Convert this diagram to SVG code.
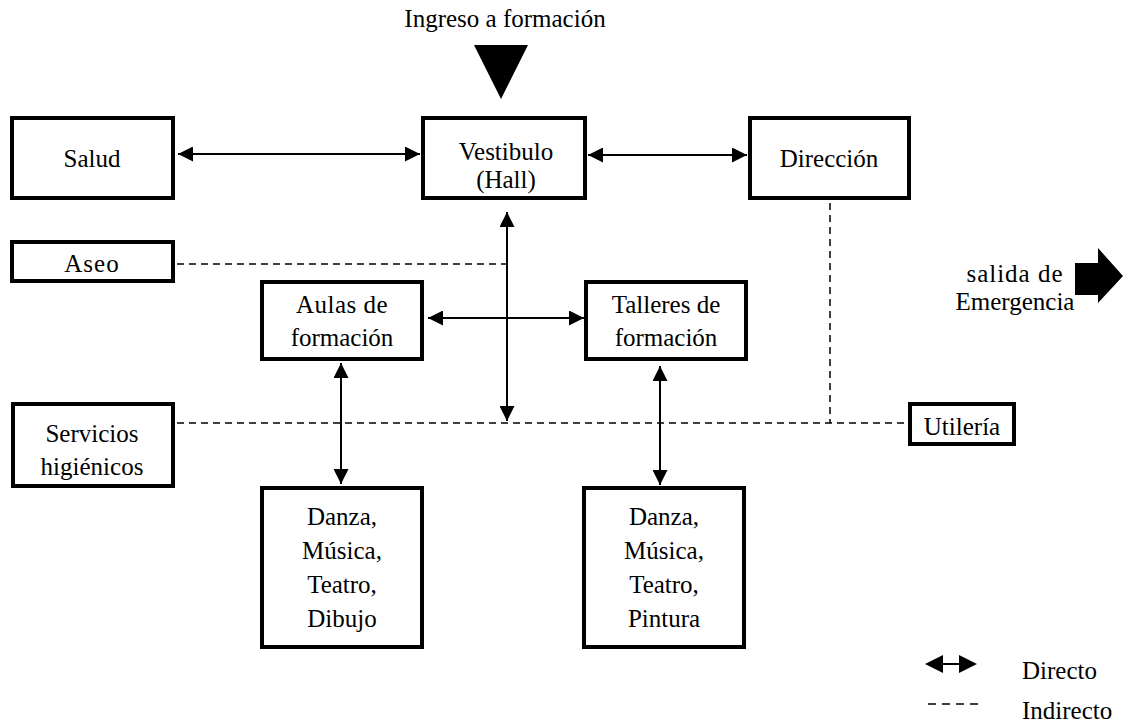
<svg xmlns="http://www.w3.org/2000/svg" width="1125" height="726" viewBox="0 0 1125 726">
<style>
.box{fill:#fff;stroke:#000;stroke-width:4}
text{font-family:'Liberation Serif',Tinos,'Times New Roman',Times,'Noto Serif','DejaVu Serif',serif;font-size:25px;fill:#000;text-anchor:middle}
.lg{text-anchor:start}
.direct{stroke:#000;stroke-width:2;fill:none;marker-start:url(#ah);marker-end:url(#ah)}
.indirect{stroke:#000;stroke-width:1.5;fill:none;stroke-dasharray:7,5}
</style>
<defs>
<marker id="ah" markerUnits="userSpaceOnUse" markerWidth="15" markerHeight="15" refX="15" refY="7.5" orient="auto-start-reverse">
<path d="M0,0 L15,7.5 L0,15 Z" fill="#000"/>
</marker>
</defs>
<rect width="1125" height="726" fill="#fff"/>

<g id="entry">
<text x="505" y="27" font-family="Liberation Serif, serif">Ingreso a formación</text>
<polygon points="474,45 528,45 501,99" fill="#000"/>
</g>

<g id="connectors">
<line class="direct" x1="178" y1="154" x2="420" y2="154"/>
<line class="direct" x1="588" y1="155" x2="747" y2="155"/>
<line class="direct" x1="507" y1="212" x2="507" y2="421"/>
<line class="direct" x1="428" y1="318" x2="584" y2="318"/>
<line class="direct" x1="341" y1="363" x2="341" y2="484"/>
<line class="direct" x1="660" y1="366" x2="660" y2="485"/>
<line class="indirect" x1="177" y1="264" x2="507" y2="264"/>
<line class="indirect" x1="177" y1="423" x2="908" y2="423"/>
<line class="indirect" x1="830" y1="203" x2="830" y2="423"/>
</g>

<g id="salud"><rect class="box" x="12" y="118" width="161" height="80"/><text x="92" y="167">Salud</text></g>
<g id="vestibulo"><rect class="box" x="423" y="118" width="162" height="80"/><text x="506" y="160">Vestibulo</text><text x="506" y="188">(Hall)</text></g>
<g id="direccion"><rect class="box" x="750" y="118" width="159" height="80"/><text x="829" y="167">Dirección</text></g>
<g id="aseo"><rect class="box" x="12" y="242" width="161" height="39"/><text x="92" y="272" letter-spacing="1">Aseo</text></g>
<g id="aulas"><rect class="box" x="262" y="282" width="160" height="77"/><text x="342" y="313" letter-spacing="0.5">Aulas de</text><text x="342" y="346">formación</text></g>
<g id="talleres"><rect class="box" x="586" y="282" width="160" height="77"/><text x="666" y="313">Talleres de</text><text x="666" y="346">formación</text></g>
<g id="servicios"><rect class="box" x="13" y="404" width="160" height="82"/><text x="92" y="442">Servicios</text><text x="92" y="475">higiénicos</text></g>
<g id="utileria"><rect class="box" x="910" y="404" width="104" height="40"/><text x="962" y="435">Utilería</text></g>
<g id="danza1"><rect class="box" x="262" y="488" width="160" height="159"/><text x="342" y="525">Danza,</text><text x="342" y="559">Música,</text><text x="342" y="593">Teatro,</text><text x="342" y="627">Dibujo</text></g>
<g id="danza2"><rect class="box" x="584" y="488" width="160" height="159"/><text x="664" y="525">Danza,</text><text x="664" y="559">Música,</text><text x="664" y="593">Teatro,</text><text x="664" y="627">Pintura</text></g>

<g id="salida">
<text x="1015" y="282" letter-spacing="1">salida de</text>
<text x="1015" y="310">Emergencia</text>
<polygon points="1075,263 1098,263 1098,248 1123,276 1098,303 1098,295 1075,295" fill="#000"/>
</g>

<g id="legend">
<line x1="935" y1="664" x2="967" y2="664" stroke="#000" stroke-width="2"/>
<polygon points="925,664 943,655 943,673" fill="#000"/>
<polygon points="977,664 959,655 959,673" fill="#000"/>
<text class="lg" x="1022" y="679">Directo</text>
<line x1="928" y1="704" x2="978" y2="704" stroke="#000" stroke-width="1.5" stroke-dasharray="8,6"/>
<text class="lg" x="1022" y="719">Indirecto</text>
</g>
</svg>
